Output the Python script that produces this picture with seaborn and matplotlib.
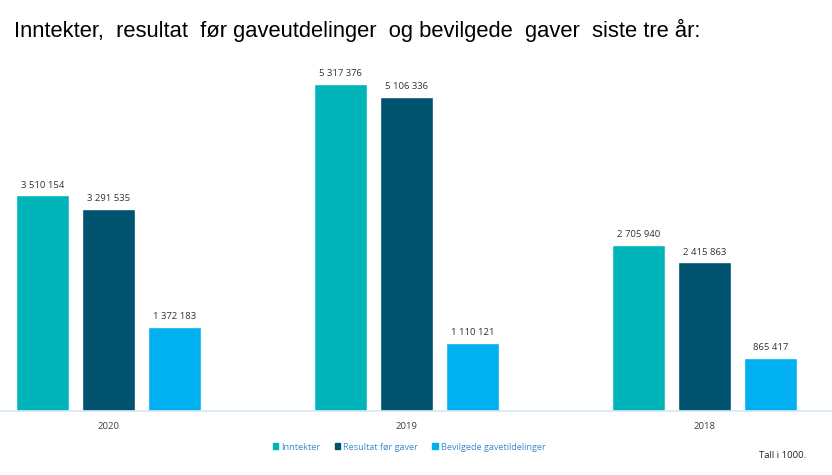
import matplotlib
matplotlib.use("Agg")
import matplotlib.pyplot as plt
import seaborn as sns
import pandas as pd

years = ["2020", "2019", "2018"]
series = ["Inntekter", "Resultat før gaver", "Bevilgede gavetildelinger"]
inntekter = [3510154, 5317376, 2705940]
resultat = [3291535, 5106336, 2415863]
bevilgede = [1372183, 1110121, 865417]
colors = ["#00B5BA", "#00526F", "#00B0F0"]

rows = []
for s, vals in zip(series, [inntekter, resultat, bevilgede]):
    for y, v in zip(years, vals):
        rows.append({"year": y, "series": s, "value": v})
df = pd.DataFrame(rows)

sns.set_style("white")
plt.rcParams["font.family"] = ["Open Sans", "DejaVu Sans"]

fig = plt.figure(figsize=(8.32, 4.75), dpi=100)
ax = fig.add_axes([0, 1 - 411 / 475, 1, (411 - 60) / 475])

sns.barplot(data=df, x="year", y="value", hue="series", order=years,
            hue_order=series, palette=colors, width=0.665, gap=0.21,
            ax=ax, legend=False, saturation=1)

ax.set_xlim(-108.5 / 298, 2 + (832 - 704.5) / 298)
ax.set_ylim(0, (411 - 60) / 327 * 5317376)

for cont in ax.containers:
    labels = [f"{int(v):,}".replace(",", " ") for v in cont.datavalues]
    ax.bar_label(cont, labels=labels, padding=4, fontsize=6.8, color="#333333")

for s in ["top", "right", "left"]:
    ax.spines[s].set_visible(False)
ax.spines["bottom"].set_color("#D6E6F4")
ax.spines["bottom"].set_linewidth(1.2)
ax.set_yticks([])
ax.set_xlabel("")
ax.set_ylabel("")
ax.tick_params(axis="x", length=0, pad=8, labelsize=6.8, labelcolor="#404040")

fig.text(14 / 832, 1 - 30 / 475, "Inntekter,  resultat  før gaveutdelinger  og bevilgede  gaver  siste tre år:",
         fontsize=15.8, family=["Liberation Sans"], va="center", ha="left", color="black")

# legend
from matplotlib.patches import Patch
handles = [Patch(color=c) for c in colors]
leg = fig.legend(handles, series, loc="center", bbox_to_anchor=(409 / 832, 1 - 447 / 475),
                 ncol=3, frameon=False, fontsize=6.6, handlelength=0.6, handleheight=0.6,
                 handletextpad=0.3, columnspacing=1.6)
for t in leg.get_texts():
    t.set_color("#3A8AD0")

fig.text(806 / 832, 1 - 455 / 475, "Tall i 1000.", fontsize=6.8, ha="right", va="center", color="#222222")

fig.savefig("out.png", dpi=100)
